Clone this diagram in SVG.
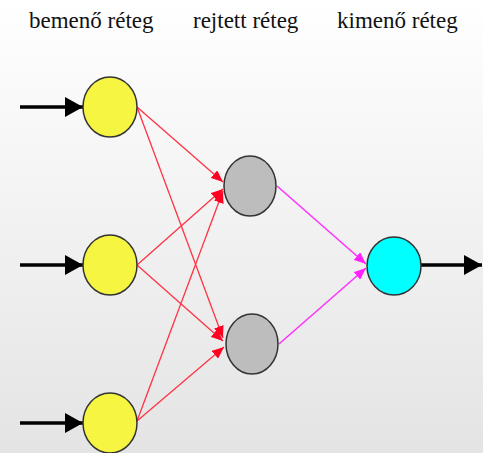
<svg xmlns="http://www.w3.org/2000/svg" width="483" height="453" viewBox="0 0 483 453">
<defs>
<linearGradient id="bg" x1="0" y1="0" x2="0" y2="1">
<stop offset="0" stop-color="#ffffff"/>
<stop offset="1" stop-color="#e4e4e4"/>
</linearGradient>
<marker id="ab" markerUnits="userSpaceOnUse" markerWidth="20" markerHeight="20" refX="18" refY="10" orient="auto"><path d="M0,0 L18,10 L0,20 Z" fill="#000"/></marker>
<marker id="ar" markerUnits="userSpaceOnUse" markerWidth="12" markerHeight="10" refX="12" refY="5" orient="auto"><path d="M0,0 L12,5 L0,10 Z" fill="#ff0022"/></marker>
<marker id="am" markerUnits="userSpaceOnUse" markerWidth="12" markerHeight="10" refX="12" refY="5" orient="auto"><path d="M0,0 L12,5 L0,10 Z" fill="#ff22ff"/></marker>
</defs>
<style>
.t{font-family:"Liberation Serif","Times New Roman",serif;font-size:23px;fill:#111}
.red{stroke:#ff3344;stroke-width:1.3;fill:none;marker-end:url(#ar)}
.mag{stroke:#ff33ff;stroke-width:1.6;fill:none;marker-end:url(#am)}
.blk{stroke:#000;stroke-width:3.5;fill:none;marker-end:url(#ab)}
.n{stroke:#333;stroke-width:1.5}
</style>
<rect width="483" height="453" fill="url(#bg)"/>
<g id="labels">
<text class="t" x="29" y="28">bemenő réteg</text>
<text class="t" x="193" y="28">rejtett réteg</text>
<text class="t" x="337" y="28">kimenő réteg</text>
</g>
<g id="connectors">
<line class="blk" x1="20" y1="107" x2="83" y2="107"/>
<line class="blk" x1="20" y1="265" x2="83" y2="265"/>
<line class="blk" x1="20" y1="423" x2="83" y2="423"/>
<line class="blk" x1="421" y1="265" x2="482" y2="265"/>
<line class="red" x1="137" y1="107" x2="223" y2="182"/>
<line class="red" x1="137" y1="107" x2="223" y2="338"/>
<line class="red" x1="137" y1="265" x2="223" y2="189"/>
<line class="red" x1="137" y1="265" x2="223" y2="341"/>
<line class="red" x1="137" y1="421" x2="223" y2="191"/>
<line class="red" x1="137" y1="421" x2="224" y2="347"/>
<line class="mag" x1="277" y1="186" x2="366" y2="264"/>
<line class="mag" x1="279" y1="344" x2="366" y2="268"/>
</g>
<g id="in1"><ellipse class="n" cx="110" cy="107" rx="27" ry="30" fill="#f5f542"/></g>
<g id="in2"><ellipse class="n" cx="110" cy="265" rx="27" ry="30" fill="#f5f542"/></g>
<g id="in3"><ellipse class="n" cx="110" cy="423" rx="27" ry="30" fill="#f5f542"/></g>
<g id="hid1"><ellipse class="n" cx="250" cy="186" rx="26" ry="30" fill="#bdbdbd"/></g>
<g id="hid2"><ellipse class="n" cx="252" cy="344" rx="26" ry="30" fill="#bdbdbd"/></g>
<g id="out"><ellipse class="n" cx="394" cy="266" rx="27" ry="29" fill="#00ffff"/></g>
</svg>
